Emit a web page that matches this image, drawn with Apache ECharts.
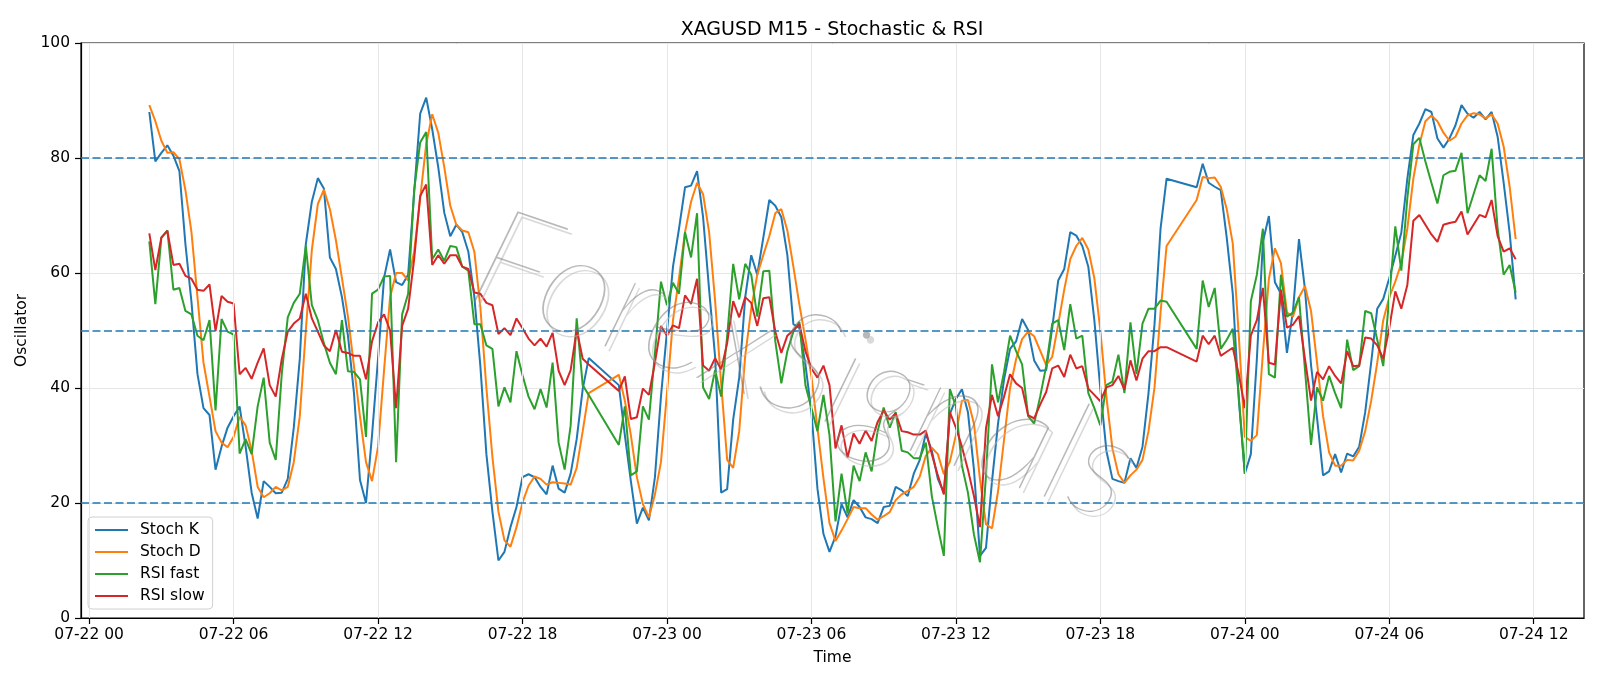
<!DOCTYPE html>
<html>
<head>
<meta charset="utf-8">
<title>XAGUSD M15 - Stochastic &amp; RSI</title>
<script src="https://cdn.jsdelivr.net/npm/echarts@6/dist/echarts.min.js"></script>
<style>
    html, body { margin: 0; padding: 0; background: #ffffff; }
    #chart_container { width: 1600px; height: 686px; }
</style>
</head>
<body>
<div id="chart_container"></div>
<script>
// M15 bars, 07-22 02:30 .. 07-24 11:15, no bars during the 21:00 hour (daily break)
var firstBar = Date.UTC(2025, 6, 22, 2, 30);
var lastBar = Date.UTC(2025, 6, 24, 11, 15);
var barMinutes = 15;
var breakHour = 21;

var seriesNames = ['Stoch K', 'Stoch D', 'RSI fast', 'RSI slow'];
var seriesColors = ['#1f77b4', '#ff7f0e', '#2ca02c', '#d62728'];

var tickLabels = ['07-22 00', '07-22 06', '07-22 12', '07-22 18', '07-23 00', '07-23 06',
                  '07-23 12', '07-23 18', '07-24 00', '07-24 06', '07-24 12'];
var levels = [20, 50, 80];

var stochK = [
    88.0, 79.4, 80.9, 82.2, 80.4, 77.7, 65.0, 55.0, 42.4, 36.5,
    35.3, 25.8, 29.8, 33.1, 35.1, 36.8, 29.8, 21.8, 17.3, 23.8,
    22.8, 21.7, 21.8, 24.2, 33.1, 45.1, 65.0, 72.4, 76.5, 74.7,
    62.7, 60.7, 55.8, 49.1, 39.1, 24.0, 20.0, 31.8, 45.1, 59.2,
    64.1, 58.4, 57.9, 59.7, 74.0, 87.7, 90.5, 85.0, 78.4, 70.5,
    66.4, 68.4, 67.1, 63.7, 55.8, 43.8, 28.5, 18.5, 10.0, 11.5,
    15.8, 19.3, 24.5, 25.0, 24.5, 22.8, 21.5, 26.5, 22.5, 21.8,
    25.1, 31.1, 39.8, 45.2,
    40.5, 31.8, 23.8, 16.4, 19.2, 17.0, 24.5, 38.5, 49.8, 61.1,
    67.7, 74.9, 75.2, 77.7, 69.7, 57.1, 45.4, 21.8, 22.4, 34.5,
    41.8, 55.8, 63.1, 59.7, 66.1, 72.7, 71.7, 69.7, 63.1, 51.1,
    50.4, 44.1, 35.8, 22.5, 14.6, 11.5, 14.2, 19.8, 17.5, 20.5,
    19.3, 17.5, 17.2, 16.5, 19.3, 19.5, 22.8, 22.2, 21.2, 25.1,
    27.5, 32.1, 29.1, 24.2, 21.8, 35.5, 38.1, 39.8, 35.8, 25.8,
    10.8, 12.2, 23.8, 33.8, 41.5, 46.8, 48.1, 52.0, 50.1, 44.8,
    43.0, 43.1, 50.4, 58.7, 60.7, 67.1, 66.5, 64.7, 61.1, 51.8,
    39.8, 29.1, 24.2, 23.8, 23.5, 27.8, 26.1, 29.8, 39.1, 51.1,
    67.7, 76.4,
    74.9, 79.0, 75.7, 75.0, 74.4, 66.1, 56.4, 38.0, 25.1, 28.5,
    45.0, 65.4, 69.9, 58.4, 56.4, 46.1, 53.4, 65.9, 57.1, 44.0,
    34.8, 24.8, 25.5, 28.5, 25.3, 28.6, 28.1, 29.8, 35.8, 44.5,
    53.8, 55.5, 59.1, 63.0, 67.0, 76.4, 84.0, 86.0, 88.5, 88.0,
    83.4, 81.8, 83.4, 85.7, 89.2, 87.7, 87.0, 88.0, 86.7, 88.0,
    83.7, 75.7, 67.0, 55.4
];

var stochD = [
    89.2, 86.4, 83.0, 80.9, 81.0, 79.8, 74.4, 67.1, 55.8, 44.4,
    38.5, 32.5, 30.5, 29.7, 31.5, 35.0, 33.5, 29.1, 22.8, 21.0,
    21.7, 22.8, 22.2, 22.8, 27.1, 35.1, 50.0, 64.0, 72.0, 74.5,
    71.1, 65.7, 59.1, 52.4, 43.8, 35.0, 27.1, 23.8, 29.8, 43.1,
    55.8, 60.0, 60.0, 58.7, 63.7, 73.0, 82.4, 87.6, 84.4, 78.4,
    71.7, 68.4, 67.4, 67.1, 63.7, 54.0, 40.0, 28.0, 18.5, 13.5,
    12.4, 15.8, 20.1, 23.0, 24.6, 24.2, 23.2, 23.6, 23.5, 23.4,
    23.2, 26.1, 32.5, 39.1,
    42.3, 37.8, 31.8, 24.5, 19.8, 17.5, 21.5, 27.1, 39.1, 51.8,
    59.1, 67.1, 72.4, 75.7, 73.7, 67.1, 55.1, 40.8, 27.5, 26.1,
    32.5, 45.6, 53.8, 59.7, 63.1, 66.4, 70.4, 71.1, 67.4, 61.1,
    54.5, 48.5, 42.0, 33.0, 24.3, 16.5, 13.4, 15.2, 17.2, 19.3,
    19.1, 19.1, 18.0, 17.1, 17.7, 18.4, 20.5, 21.5, 22.1, 22.8,
    24.6, 28.2, 29.6, 28.5, 25.0, 27.2, 31.8, 37.8, 37.9, 33.8,
    24.1, 16.3, 15.6, 22.0, 31.0, 40.0, 45.0, 48.5, 49.8, 49.0,
    46.5, 44.0, 45.4, 51.1, 57.1, 62.4, 64.7, 66.1, 64.1, 59.1,
    50.0, 38.5, 29.5, 25.0, 23.5, 24.8, 25.8, 27.5, 32.5, 40.1,
    53.1, 64.7,
    72.7, 76.7, 76.5, 76.6, 75.0, 71.1, 65.1, 49.1, 31.5, 30.8,
    31.8, 46.0, 59.0, 64.3, 61.7, 53.1, 52.4, 55.8, 57.7, 53.4,
    44.4, 35.1, 28.8, 26.5, 26.5, 27.5, 27.4, 29.1, 32.5, 37.8,
    44.4, 51.8, 55.8, 58.5, 61.7, 67.7, 76.4, 82.3, 86.4, 87.4,
    86.4, 84.4, 83.0, 83.7, 86.0, 87.4, 87.8, 87.6, 86.9, 87.6,
    86.0, 82.0, 75.0, 65.9
];

var rsiFast = [
    65.5, 54.6, 66.1, 67.4, 57.1, 57.4, 53.4, 52.8, 49.1, 48.3,
    51.8, 36.1, 52.0, 49.8, 49.3, 28.6, 31.1, 28.5, 36.8, 41.8,
    30.5, 27.5, 42.4, 52.3, 54.8, 56.4, 64.7, 54.4, 51.8, 47.8,
    44.4, 42.4, 51.8, 42.9, 42.8, 41.5, 31.5, 56.4, 57.1, 59.4,
    59.5, 27.1, 52.8, 56.4, 74.4, 82.7, 84.5, 62.4, 64.1, 62.1,
    64.7, 64.5, 61.1, 60.4, 51.1, 51.1, 47.4, 46.8, 36.8, 40.1,
    37.5, 46.4, 42.2, 38.5, 36.3, 39.8, 36.6, 44.4, 30.5, 25.8,
    33.5, 52.1, 40.5, 38.8,
    30.1, 36.8, 24.8, 25.5, 36.8, 34.5, 46.0, 58.5, 54.4, 58.3,
    56.4, 67.1, 62.7, 70.4, 40.1, 38.1, 43.1, 38.5, 49.0, 61.6,
    55.4, 61.6, 59.7, 52.4, 60.3, 60.4, 48.1, 40.8, 46.4, 49.8,
    51.5, 40.5, 36.5, 32.5, 38.8, 31.8, 16.8, 25.1, 18.2, 26.5,
    23.8, 28.8, 25.5, 32.5, 36.6, 33.1, 35.8, 29.1, 28.8, 27.8,
    27.8, 30.5, 21.2, 15.8, 10.8, 39.8, 36.8, 26.5, 21.8, 14.5,
    9.7, 24.8, 44.1, 37.5, 42.8, 49.1, 46.4, 44.1, 35.1, 33.8,
    38.5, 43.8, 51.2, 51.8, 46.6, 54.6, 48.6, 49.1, 39.1, 36.5,
    33.5, 40.5, 41.1, 45.8, 39.1, 51.4, 42.4, 51.2, 53.8, 53.8,
    55.2, 55.0,
    46.8, 58.7, 54.1, 57.4, 46.8, 48.4, 50.3, 38.5, 25.1, 55.1,
    59.7, 67.7, 42.4, 41.8, 59.7, 52.4, 53.1, 55.8, 43.1, 30.1,
    40.1, 37.8, 42.1, 39.1, 36.5, 48.4, 43.1, 43.8, 53.4, 53.0,
    48.4, 43.8, 55.8, 68.1, 60.4, 73.0, 82.4, 83.5, 79.4, 75.7,
    72.1, 77.0, 77.6, 77.8, 80.9, 70.4, 73.7, 77.0, 76.0, 81.6,
    67.7, 59.7, 61.4, 56.6
];

var rsiSlow = [
    66.9, 60.5, 66.2, 67.3, 61.4, 61.6, 59.5, 59.0, 57.1, 56.9,
    58.0, 49.9, 56.0, 55.0, 54.7, 42.4, 43.5, 41.6, 44.4, 46.9,
    40.5, 38.5, 45.0, 49.8, 51.2, 52.1, 56.4, 52.1, 49.8, 47.4,
    46.4, 50.1, 46.3, 46.1, 45.6, 45.6, 41.5, 48.1, 51.4, 52.8,
    50.0, 36.5, 50.8, 53.8, 62.4, 73.4, 75.4, 61.4, 63.1, 61.6,
    63.1, 63.1, 61.1, 60.7, 56.6, 56.4, 54.8, 54.4, 49.4, 50.4,
    49.2, 52.1, 50.4, 48.6, 47.4, 48.6, 47.2, 49.6, 43.0, 40.5,
    43.1, 50.1, 45.1, 44.1,
    39.5, 42.0, 34.6, 34.9, 39.9, 38.8, 44.4, 50.8, 49.1, 50.9,
    50.4, 56.1, 54.6, 59.0, 43.9, 43.0, 45.2, 43.2, 47.8, 55.1,
    52.3, 55.8, 54.8, 50.8, 55.6, 55.8, 49.8, 46.1, 49.1, 50.1,
    51.1, 46.4, 43.4, 41.8, 43.9, 40.5, 29.5, 33.5, 27.9, 32.1,
    30.3, 32.6, 30.8, 34.1, 36.1, 34.5, 35.6, 32.5, 32.3, 31.9,
    31.9, 32.6, 28.5, 24.8, 21.5, 35.8, 33.1, 29.8, 25.8, 21.2,
    15.8, 33.0, 38.8, 35.1, 38.5, 42.4, 40.8, 40.0, 35.3, 34.7,
    37.1, 39.3, 43.4, 43.9, 41.9, 45.8, 43.4, 43.8, 39.9, 38.8,
    37.7, 40.1, 40.5, 42.1, 39.7, 44.8, 41.3, 45.1, 46.4, 46.4,
    47.1, 47.1,
    44.6, 49.1, 47.6, 49.1, 45.6, 46.3, 47.0, 42.4, 36.5, 49.1,
    51.8, 57.4, 44.4, 44.1, 57.1, 50.5, 51.0, 52.5, 45.0, 37.8,
    42.8, 41.5, 43.8, 42.1, 40.8, 46.4, 43.8, 43.9, 48.8, 48.6,
    47.4, 45.1, 50.4, 56.8, 53.8, 57.9, 69.1, 70.1, 68.4, 66.7,
    65.4, 68.4, 68.7, 68.9, 70.7, 66.7, 68.4, 70.1, 69.7, 72.7,
    66.4, 63.7, 64.3, 62.4
];

function pad2(n) {
    return (n < 10 ? '0' : '') + n;
}

function render_chart() {
    var dom = document.getElementById('chart_container');
    var myChart = echarts.init(dom, null, { renderer: 'canvas' });

    // bar open times, skipping the daily break hour
    var barTimes = [];
    for (var t = firstBar; t <= lastBar; t += barMinutes * 60000) {
        if (new Date(t).getUTCHours() !== breakHour) {
            barTimes.push(t);
        }
    }

    // '07-22 06' -> timestamp
    var tickTimes = tickLabels.map(function (s) {
        return Date.UTC(2025, parseInt(s.substr(0, 2), 10) - 1,
                        parseInt(s.substr(3, 2), 10), parseInt(s.substr(6, 2), 10));
    });

    // same 5% side margins matplotlib puts on the data range
    var span = lastBar - firstBar;
    var xMin = firstBar - 0.05 * span;
    var xMax = lastBar + 0.05 * span;

    var values = [stochK, stochD, rsiFast, rsiSlow];
    var lineSeries = values.map(function (arr, k) {
        if (arr.length !== barTimes.length) {
            console.log(seriesNames[k] + ': ' + arr.length + ' values for ' + barTimes.length + ' bars');
        }
        return {
            name: seriesNames[k],
            type: 'line',
            data: barTimes.map(function (bt, j) { return [bt, arr[j]]; }),
            showSymbol: false,
            symbol: 'none',
            color: seriesColors[k],
            lineStyle: { width: 2, color: seriesColors[k] },
            z: 3
        };
    });

    // watermark: thin grey lettering with a lighter offset shadow, laid over the plot
    var wmFont = 'italic 200 142px Lato, Inter, "DejaVu Sans"';
    var watermark = [
        { dx: 4, dy: 5, fill: 'rgba(185,185,185,0.55)' },
        { dx: 0, dy: 0, fill: 'rgba(125,125,125,0.55)' }
    ].map(function (w) {
        return {
            type: 'text',
            silent: true,
            z: 10,
            x: 804 + w.dx,
            y: 366 + w.dy,
            rotation: -0.33,
            style: {
                text: 'ForexSignals',
                fill: w.fill,
                font: wmFont,
                align: 'center',
                verticalAlign: 'middle'
            }
        };
    });

    var option = {
        animation: false,
        backgroundColor: '#ffffff',
        textStyle: { fontFamily: 'DejaVu Sans' },
        title: {
            text: 'XAGUSD M15 - Stochastic & RSI',
            left: 827,
            textAlign: 'center',
            top: 16,
            textStyle: { fontSize: 19, fontWeight: 'normal', color: '#000000', fontFamily: 'DejaVu Sans' }
        },
        legend: {
            data: seriesNames,
            orient: 'vertical',
            left: 88,
            top: 517,
            padding: [5, 8, 5, 7],
            itemGap: 6,
            itemWidth: 33,
            itemHeight: 2,
            icon: 'rect',
            backgroundColor: 'rgba(255,255,255,0.85)',
            borderColor: '#d0d0d0',
            borderWidth: 1,
            borderRadius: 4,
            textStyle: { fontSize: 15.5, color: '#000000', fontFamily: 'DejaVu Sans', padding: [0, 0, 0, 7] }
        },
        grid: {
            left: 81,
            right: 16,
            top: 43,
            bottom: 68,
            show: true,
            borderColor: '#000000',
            borderWidth: 1.2,
            backgroundColor: 'transparent'
        },
        xAxis: {
            type: 'value',
            min: xMin,
            max: xMax,
            name: 'Time',
            nameLocation: 'middle',
            nameGap: 32,
            nameTextStyle: { fontSize: 15.5, color: '#000000', fontFamily: 'DejaVu Sans' },
            axisLine: { show: true, lineStyle: { color: '#000000', width: 1.2 } },
            axisTick: { show: true, customValues: tickTimes, length: 6, lineStyle: { color: '#000000', width: 1.2 } },
            axisLabel: {
                customValues: tickTimes,
                margin: 9,
                fontSize: 15.5,
                color: '#000000',
                fontFamily: 'DejaVu Sans',
                formatter: function (v) {
                    var i = tickTimes.indexOf(v);
                    if (i >= 0) return tickLabels[i];
                    var d = new Date(v);
                    return pad2(d.getUTCMonth() + 1) + '-' + pad2(d.getUTCDate()) + ' ' + pad2(d.getUTCHours());
                }
            },
            splitLine: { show: false }
        },
        yAxis: {
            type: 'value',
            min: 0,
            max: 100,
            interval: 20,
            name: 'Oscillator',
            nameLocation: 'middle',
            nameGap: 43,
            nameTextStyle: { fontSize: 15.5, color: '#000000', fontFamily: 'DejaVu Sans' },
            axisLine: { show: true, lineStyle: { color: '#000000', width: 1.2 } },
            axisTick: { show: true, length: 6, lineStyle: { color: '#000000', width: 1.2 } },
            axisLabel: { margin: 11, fontSize: 15.5, color: '#000000', fontFamily: 'DejaVu Sans' },
            splitLine: { show: true, lineStyle: { color: '#e6e6e6', width: 1 } }
        },
        graphic: watermark,
        series: [
            {
                // vertical grid lines at the time ticks
                name: 'grid-x',
                type: 'line',
                data: [],
                silent: true,
                z: 1,
                markLine: {
                    silent: true,
                    symbol: 'none',
                    animation: false,
                    label: { show: false },
                    lineStyle: { color: '#e6e6e6', width: 1, type: 'solid' },
                    data: tickTimes.map(function (tt) { return { xAxis: tt }; })
                }
            }
        ].concat(lineSeries).concat([
            {
                // 20 / 50 / 80 levels
                name: 'levels',
                type: 'line',
                data: [],
                silent: true,
                z: 4,
                markLine: {
                    silent: true,
                    symbol: 'none',
                    animation: false,
                    label: { show: false },
                    lineStyle: { color: '#1f77b4', width: 1.5, type: [8, 3.5] },
                    data: levels.map(function (lv) { return { yAxis: lv }; })
                }
            }
        ])
    };

    myChart.setOption(option, true);
}

render_chart();
</script>
</body>
</html>
